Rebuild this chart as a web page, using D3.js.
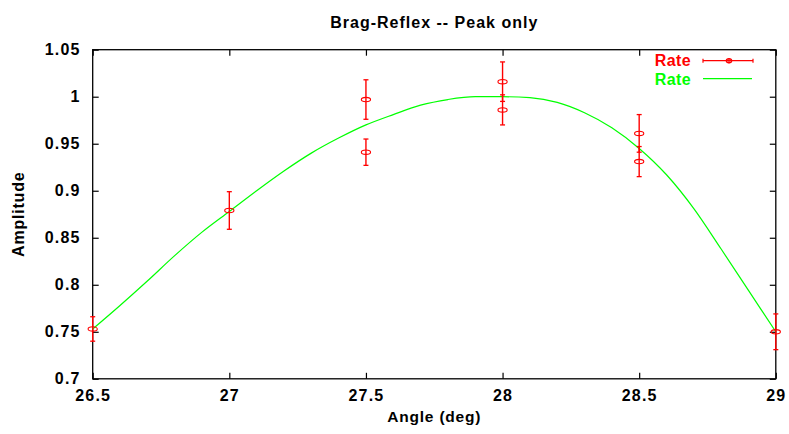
<!DOCTYPE html>
<html>
<head>
<meta charset="utf-8">
<script src="https://cdn.jsdelivr.net/npm/d3@7"></script>
<style>
  html, body { margin: 0; padding: 0; background: #fff; }
  svg { display: block; }
  text { font-family: "Liberation Sans", Arial, Helvetica, sans-serif; font-weight: bold; fill: #000; }
</style>
</head>
<body>
<script>
// Measured rates per angle, with their errors
const angles     = [26.5, 27, 27.5, 27.5, 28, 28, 28.5, 28.5, 29];
const rates      = [0.753, 0.879, 0.997, 0.941, 1.016, 0.986, 0.961, 0.931, 0.750];
const rateErrors = [0.013, 0.020, 0.021, 0.014, 0.021, 0.016, 0.020, 0.016, 0.019];

// Fitted peak curve
const fitAngles = [26.5, 26.6, 26.7, 26.8, 26.9, 27.0, 27.1, 27.2, 27.3, 27.4, 27.5, 27.6, 27.7,
                   27.8, 27.9, 28.0, 28.1, 28.2, 28.3, 28.4, 28.5, 28.6, 28.7, 28.8, 28.9, 29.0];
const fitRates  = [0.753, 0.778, 0.804, 0.831, 0.856, 0.878, 0.900, 0.921, 0.940, 0.956, 0.970, 0.981, 0.991,
                   0.997, 1.000, 1.000, 0.999, 0.994, 0.983, 0.967, 0.945, 0.917, 0.881, 0.838, 0.794, 0.750];

// Tick labels
const xTicks = [26.5, 27, 27.5, 28, 28.5, 29];
const yTicks = [0.7, 0.75, 0.8, 0.85, 0.9, 0.95, 1.0, 1.05];

const title = "Brag-Reflex -- Peak only";
const xLabel = "Angle (deg)";
const yLabel = "Amplitude";
const seriesNames = ["Rate", "Rate"];

const W = 789, H = 434;
const margin = { left: 92.7, top: 49.7, right: W - 775.8, bottom: H - 378.8 };
const iw = W - margin.left - margin.right;
const ih = H - margin.top - margin.bottom;

const RED = "#ff0000", GREEN = "#00ff00";

const svg = d3.select("body").append("svg")
  .attr("width", W).attr("height", H);
svg.append("rect").attr("width", W).attr("height", H).attr("fill", "#fff");

const g = svg.append("g").attr("transform", `translate(${margin.left},${margin.top})`);

const x = d3.scaleLinear().domain([26.5, 29]).range([0, iw]);
const y = d3.scaleLinear().domain([0.7, 1.05]).range([ih, 0]);

const fmt = v => String(+v.toFixed(2));

// Axes with inward ticks, mirrored on top and right
function styleAxis(sel) {
  sel.select(".domain").remove();
  sel.selectAll(".tick line").attr("stroke", "#000").attr("stroke-width", 1.2);
}
function styleLabels(sel) {
  sel.selectAll(".tick text").attr("font-size", 16).style("letter-spacing", "1.2px")
    .attr("font-family", null).attr("fill", "#000");
}
g.append("g").attr("transform", `translate(0,${ih})`)
  .call(d3.axisBottom(x).tickValues(xTicks).tickSize(-6).tickPadding(11).tickFormat(fmt))
  .call(styleAxis).call(styleLabels);
g.append("g")
  .call(d3.axisTop(x).tickValues(xTicks).tickSize(-6).tickFormat(""))
  .call(styleAxis);
g.append("g")
  .call(d3.axisLeft(y).tickValues(yTicks).tickSize(-6).tickPadding(12).tickFormat(fmt))
  .call(styleAxis).call(styleLabels);
g.append("g").attr("transform", `translate(${iw},0)`)
  .call(d3.axisRight(y).tickValues(yTicks).tickSize(-6).tickFormat(""))
  .call(styleAxis);

// Plot border
g.append("rect").attr("width", iw).attr("height", ih)
  .attr("fill", "none").attr("stroke", "#000").attr("stroke-width", 1.3);

// Fit curve
const fit = fitAngles.map((a, i) => [a, fitRates[i]]);
g.append("path").datum(fit)
  .attr("fill", "none").attr("stroke", GREEN).attr("stroke-width", 1.2)
  .attr("d", d3.line().x(d => x(d[0])).y(d => y(d[1])).curve(d3.curveMonotoneX));

// Error bars
const pts = angles.map((a, i) => ({ a, r: rates[i], e: rateErrors[i] }));
const eb = g.append("g").attr("stroke", RED).attr("fill", "none");
const capW = 2.5;
pts.forEach(p => {
  const cx = x(p.a), cy = y(p.r), yt = y(p.r + p.e), yb = y(p.r - p.e);
  eb.append("line").attr("x1", cx).attr("x2", cx).attr("y1", yt).attr("y2", yb).attr("stroke-width", 1.4);
  eb.append("line").attr("x1", cx - capW).attr("x2", cx + capW).attr("y1", yt).attr("y2", yt).attr("stroke-width", 1.3);
  eb.append("line").attr("x1", cx - capW).attr("x2", cx + capW).attr("y1", yb).attr("y2", yb).attr("stroke-width", 1.3);
  eb.append("ellipse").attr("cx", cx).attr("cy", cy).attr("rx", 4.6).attr("ry", 2.2).attr("stroke-width", 1.1);
});

// Title and axis labels
svg.append("text").attr("x", margin.left + iw / 2).attr("y", 27.7)
  .attr("text-anchor", "middle").attr("font-size", 16).style("letter-spacing", "1px")
  .text(title);
svg.append("text").attr("x", margin.left + iw / 2).attr("y", 421.7)
  .attr("text-anchor", "middle").attr("font-size", 15.5).style("letter-spacing", "0.8px")
  .text(xLabel);
svg.append("text").attr("transform", `translate(24,${margin.top + ih / 2}) rotate(-90)`)
  .attr("text-anchor", "middle").attr("font-size", 16).style("letter-spacing", "0.8px")
  .text(yLabel);

// Legend
const legend = svg.append("g");
const lx0 = 703, lx1 = 753;
const ly = [60.7, 78.7];
legend.append("text").attr("x", 691).attr("y", 66).attr("text-anchor", "end")
  .attr("font-size", 16).style("letter-spacing", "0.4px").style("fill", RED).text(seriesNames[0]);
legend.append("line").attr("x1", lx0).attr("x2", lx1).attr("y1", ly[0]).attr("y2", ly[0])
  .attr("stroke", RED).attr("stroke-width", 1.3);
[lx0, lx1].forEach(cx => legend.append("line").attr("x1", cx).attr("x2", cx)
  .attr("y1", ly[0] - 2).attr("y2", ly[0] + 2).attr("stroke", RED).attr("stroke-width", 1.2));
legend.append("ellipse").attr("cx", 729).attr("cy", ly[0]).attr("rx", 2.6).attr("ry", 2)
  .attr("fill", "none").attr("stroke", RED).attr("stroke-width", 1.4);
legend.append("line").attr("x1", 729).attr("x2", 729).attr("y1", ly[0] - 2.5).attr("y2", ly[0] + 2.5)
  .attr("stroke", RED).attr("stroke-width", 1.2);
legend.append("text").attr("x", 691).attr("y", 84.5).attr("text-anchor", "end")
  .attr("font-size", 16).style("letter-spacing", "0.4px").style("fill", GREEN).text(seriesNames[1]);
legend.append("line").attr("x1", lx0).attr("x2", lx1 - 1).attr("y1", ly[1]).attr("y2", ly[1])
  .attr("stroke", GREEN).attr("stroke-width", 1.3);
</script>
</body>
</html>
